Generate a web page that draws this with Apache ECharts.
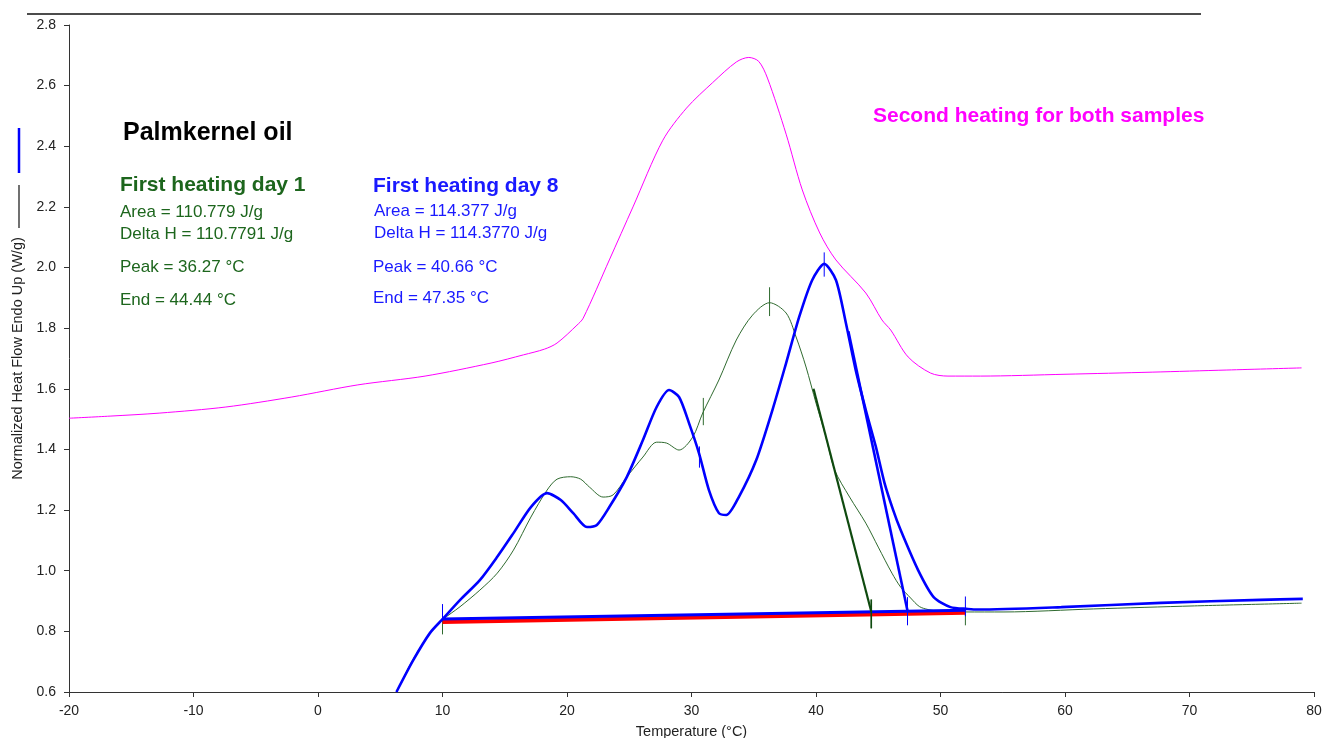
<!DOCTYPE html>
<html>
<head>
<meta charset="utf-8">
<title>Palmkernel oil DSC</title>
<script src="https://cdn.jsdelivr.net/npm/echarts@6/dist/echarts.min.js"></script>
<style>
  html, body { margin: 0; padding: 0; background: #ffffff; }
  #chart { width: 1324px; height: 738px; }
</style>
</head>
<body>
<div id="chart"></div>
<script>
// Axis ranges and ticks
const xTicks = { min: -20, max: 80, step: 10 };
const yTicks = { min: 0.6, max: 2.8, step: 0.2 };

// Second heating (both samples) : [temperature °C, heat flow W/g]
const secondHeating = [
  [-20, 1.503], [-16.7, 1.510], [-12.7, 1.520], [-7.4, 1.540], [-2.1, 1.573],
  [3.2, 1.613], [8.6, 1.642], [13.9, 1.685], [16.5, 1.712], [18.2, 1.731],
  [19.2, 1.751], [20.8, 1.810], [21.3, 1.833], [23.4, 2.025], [25.3, 2.200],
  [27.7, 2.420], [29.6, 2.526], [31.7, 2.610], [33.6, 2.678], [34.6, 2.693],
  [35.4, 2.680], [36.1, 2.625], [37.6, 2.440], [38.9, 2.256], [40.3, 2.114],
  [41.6, 2.025], [44.0, 1.916], [45.3, 1.827], [46.0, 1.794], [47.4, 1.705],
  [49.2, 1.652], [50.6, 1.642], [53.2, 1.642], [60, 1.648], [67, 1.655],
  [73, 1.662], [79, 1.669]
];

// First heating, day 1
const day1Curve = [
  [6.3, 0.600], [7.6, 0.705], [9.0, 0.795], [10.0, 0.838], [11.4, 0.881],
  [13.0, 0.936], [14.4, 0.992], [15.7, 1.068], [17.1, 1.177], [18.4, 1.266],
  [19.2, 1.302], [20.3, 1.310], [21.1, 1.302], [21.8, 1.276], [22.9, 1.243],
  [23.7, 1.250], [24.8, 1.309], [26.1, 1.375], [27.2, 1.424], [28.0, 1.421],
  [29.0, 1.398], [30.1, 1.441], [30.9, 1.520], [32.2, 1.629], [33.6, 1.761],
  [34.9, 1.843], [36.27, 1.884], [37.6, 1.850], [38.4, 1.771], [39.2, 1.672],
  [40.0, 1.553], [40.8, 1.441], [41.5, 1.332], [42.7, 1.243], [44.0, 1.157],
  [45.0, 1.078], [46.1, 0.992], [46.8, 0.946], [47.6, 0.910], [48.3, 0.882],
  [49.0, 0.872], [50.0, 0.866], [52.0, 0.864], [55.1, 0.864], [62.3, 0.874],
  [70.4, 0.884], [79.0, 0.893]
];

// First heating, day 8
const day8Curve = [
  [6.3, 0.600], [7.65, 0.705], [9.0, 0.795], [10.0, 0.840], [11.4, 0.903],
  [13.0, 0.969], [14.4, 1.046], [15.7, 1.124], [17.1, 1.210], [18.4, 1.256],
  [19.5, 1.233], [20.5, 1.190], [21.6, 1.144], [22.4, 1.151], [23.4, 1.210],
  [24.8, 1.309], [26.1, 1.431], [27.2, 1.540], [28.2, 1.596], [29.0, 1.573],
  [29.8, 1.487], [30.6, 1.388], [31.4, 1.266], [32.2, 1.190], [32.8, 1.184],
  [33.8, 1.243], [35.2, 1.365], [36.5, 1.530], [37.6, 1.685], [38.65, 1.837],
  [39.7, 1.959], [40.66, 2.012], [41.6, 1.959], [42.4, 1.817], [43.2, 1.660],
  [44.0, 1.530], [44.8, 1.410], [45.5, 1.290], [46.2, 1.200], [46.8, 1.134],
  [48.2, 1.002], [49.45, 0.913], [50.8, 0.880], [52.2, 0.874], [53.0, 0.872],
  [59.7, 0.880], [67.7, 0.894], [75.7, 0.904], [79.1, 0.907]
];

// Integration baselines
const day1Baseline = [[10, 0.831], [52, 0.861]];
const day8Baseline = [[10, 0.841], [52, 0.870]];

// Peak results
const sampleNames = ['First heating day 1', 'First heating day 8'];
const areas = [110.779, 114.377];
const deltaH = ['110.7791', '114.3770'];
const peakTemps = [36.27, 40.66];
const endTemps = [44.44, 47.35];

// Leading-edge tangents ending at the end temperatures
const day1Tangent = [[39.8, 1.600], [endTemps[0], 0.865]];
const day8Tangent = [[42.6, 1.790], [endTemps[1], 0.868]];

// Vertical limit marks: [temperature, lower W/g, upper W/g]
const day1Marks = [
  [10, 0.790, 0.880], [30.95, 1.480, 1.570], [peakTemps[0], 1.840, 1.935],
  [endTemps[0], 0.810, 0.905], [52, 0.820, 0.870]
];
const day8Marks = [
  [10, 0.840, 0.890], [30.64, 1.340, 1.410], [peakTemps[1], 1.970, 2.050],
  [endTemps[1], 0.820, 0.913], [52, 0.850, 0.915]
];

const FONT = '"Liberation Sans", Arial, sans-serif';
const GREEN_TEXT = '#1d661d';
const GREEN_LINE = '#2f6a2f';
const GREEN_DARK = '#0f4a0f';
const BLUE = '#0000ff';
const BLUE_TEXT = '#1a1aff';
const MAGENTA = '#ff00ff';

function markSeries(data, color, width, z) {
  return {
    type: 'custom',
    data: data,
    z: z,
    encode: { x: 0, y: [1, 2] },
    renderItem: function (params, api) {
      const a = api.coord([api.value(0), api.value(1)]);
      const b = api.coord([api.value(0), api.value(2)]);
      return {
        type: 'line',
        shape: { x1: a[0], y1: a[1], x2: b[0], y2: b[1] },
        style: { stroke: color, lineWidth: width }
      };
    }
  };
}

function lineSeries(data, color, width, z, smooth) {
  return {
    type: 'line',
    data: data,
    z: z,
    symbol: 'none',
    smooth: smooth,
    lineStyle: { color: color, width: width },
    emphasis: { disabled: true }
  };
}

function text(x, y, str, fill, font) {
  return {
    type: 'text', x: x, y: y, z: 50,
    style: { text: str, fill: fill, font: font, verticalAlign: 'middle' }
  };
}

const chart = echarts.init(document.getElementById('chart'), null, { renderer: 'canvas' });

chart.setOption({
  animation: false,
  backgroundColor: '#ffffff',
  textStyle: { fontFamily: FONT },
  grid: { left: 69, right: 10, top: 25, bottom: 46, outerBoundsMode: 'none', containLabel: false },
  xAxis: {
    type: 'value',
    min: xTicks.min, max: xTicks.max, interval: xTicks.step,
    name: 'Temperature (°C)',
    nameLocation: 'middle',
    nameGap: 32,
    nameTextStyle: { fontSize: 14.5, color: '#222', fontFamily: FONT },
    axisLine: { onZero: false, lineStyle: { color: '#333', width: 1 } },
    axisTick: { length: 5, lineStyle: { color: '#333' } },
    axisLabel: { fontSize: 14, color: '#222', margin: 12, fontFamily: FONT },
    splitLine: { show: false }
  },
  yAxis: {
    type: 'value',
    min: yTicks.min, max: yTicks.max, interval: yTicks.step,
    name: 'Normalized Heat Flow Endo Up (W/g)',
    nameLocation: 'middle',
    nameGap: 42,
    nameRotate: 90,
    nameTextStyle: { fontSize: 14.5, color: '#222', fontFamily: FONT },
    axisLine: { show: true, onZero: false, lineStyle: { color: '#333', width: 1 } },
    axisTick: { show: true, length: 5, lineStyle: { color: '#333' } },
    axisLabel: {
      fontSize: 14, color: '#222', margin: 13, fontFamily: FONT,
      formatter: function (v) { return v.toFixed(1); }
    },
    splitLine: { show: false }
  },
  series: [
    lineSeries(secondHeating, MAGENTA, 1, 2, 0.3),
    lineSeries(day1Curve, GREEN_LINE, 1, 3, 0.3),
    markSeries(day1Marks, GREEN_LINE, 1, 3),
    lineSeries(day1Baseline, '#ff0000', 4, 4, false),
    lineSeries(day8Baseline, BLUE, 3, 5, false),
    lineSeries(day8Curve, BLUE, 2.6, 6, 0.25),
    lineSeries(day1Tangent, GREEN_DARK, 2.2, 7, false),
    lineSeries(day8Tangent, BLUE, 2.6, 7, false),
    markSeries(day8Marks, BLUE, 1, 8),
    markSeries([day1Marks[3]], GREEN_DARK, 1.6, 9)
  ],
  graphic: [
    // rule across the top
    { type: 'line', z: 50, shape: { x1: 27, y1: 14, x2: 1201, y2: 14 },
      style: { stroke: '#111', lineWidth: 1.6 } },
    // line keys beside the vertical axis title
    { type: 'line', z: 50, shape: { x1: 19, y1: 128, x2: 19, y2: 173 },
      style: { stroke: BLUE, lineWidth: 2.5 } },
    { type: 'line', z: 50, shape: { x1: 19, y1: 185, x2: 19, y2: 228 },
      style: { stroke: '#111', lineWidth: 1.2 } },
    text(123, 133, 'Palmkernel oil', '#000', 'bold 25px ' + FONT),
    text(120, 185, sampleNames[0], GREEN_TEXT, 'bold 21px ' + FONT),
    text(120, 212, 'Area = ' + areas[0].toFixed(3) + ' J/g', GREEN_TEXT, '17px ' + FONT),
    text(120, 234, 'Delta H = ' + deltaH[0] + ' J/g', GREEN_TEXT, '17px ' + FONT),
    text(120, 267, 'Peak = ' + peakTemps[0].toFixed(2) + ' °C', GREEN_TEXT, '17px ' + FONT),
    text(120, 300, 'End = ' + endTemps[0].toFixed(2) + ' °C', GREEN_TEXT, '17px ' + FONT),
    text(373, 186, sampleNames[1], BLUE_TEXT, 'bold 21px ' + FONT),
    text(374, 211, 'Area = ' + areas[1].toFixed(3) + ' J/g', BLUE_TEXT, '17px ' + FONT),
    text(374, 233, 'Delta H = ' + deltaH[1] + ' J/g', BLUE_TEXT, '17px ' + FONT),
    text(373, 267, 'Peak = ' + peakTemps[1].toFixed(2) + ' °C', BLUE_TEXT, '17px ' + FONT),
    text(373, 298, 'End = ' + endTemps[1].toFixed(2) + ' °C', BLUE_TEXT, '17px ' + FONT),
    text(873, 116, 'Second heating for both samples', MAGENTA, 'bold 21px ' + FONT)
  ]
});
</script>
</body>
</html>
